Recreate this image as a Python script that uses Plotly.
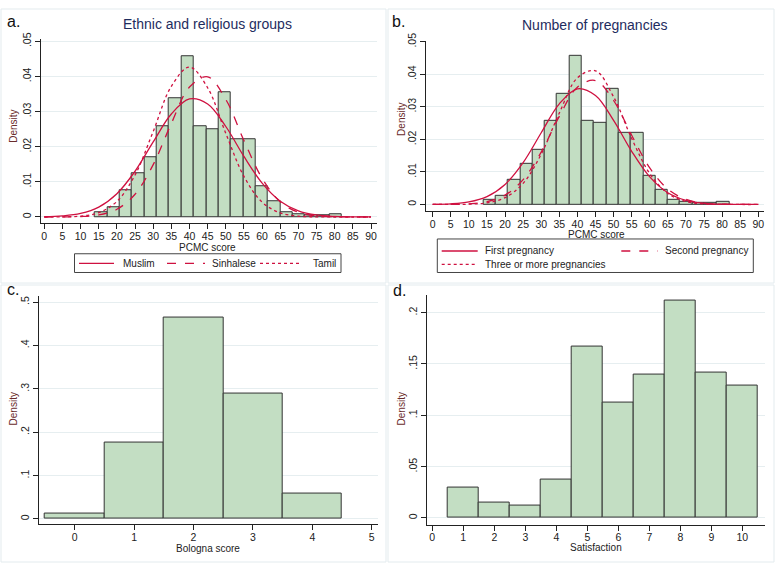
import numpy as np
import plotly.graph_objects as go

W, H = 775, 563

# ---------------- data ----------------
pcmc_bin_start = 14.0
pcmc_bin_width = 3.4
pcmc_density = [0.0013, 0.0028, 0.0075, 0.0125, 0.0169, 0.0258, 0.0339, 0.0457, 0.0258, 0.0251,
                0.0355, 0.0221, 0.0221, 0.0088, 0.0044, 0.0013, 0.0007, 0.0006, 0.0006, 0.0007]

curve_x = [0, 5, 10, 15, 20, 25, 30, 35, 40, 45, 50, 55, 60, 65, 70, 75, 80, 85, 90]
muslim = [0.00007, 0.00030, 0.00100, 0.00282, 0.00663, 0.01302, 0.02137, 0.02931, 0.03360, 0.03218,
          0.02576, 0.01723, 0.00963, 0.00450, 0.00176, 0.00057, 0.00016, 0.00004, 0.00001]
sinhalese = [0.00000, 0.00002, 0.00012, 0.00057, 0.00219, 0.00648, 0.01490, 0.02664, 0.03699, 0.03990,
             0.03344, 0.02176, 0.01101, 0.00432, 0.00132, 0.00031, 0.00006, 0.00001, 0.00000]
tamil = [0.00000, 0.00004, 0.00025, 0.00122, 0.00441, 0.01196, 0.02435, 0.03721, 0.04270, 0.03679,
         0.02380, 0.01156, 0.00422, 0.00116, 0.00024, 0.00004, 0.00000, 0.00000, 0.00000]
first_preg = [0.00004, 0.00020, 0.00078, 0.00241, 0.00615, 0.01287, 0.02204, 0.03093, 0.03556, 0.03349,
              0.02585, 0.01635, 0.00847, 0.00359, 0.00125, 0.00036, 0.00008, 0.00002, 0.00000]
second_preg = [0.00001, 0.00004, 0.00020, 0.00085, 0.00286, 0.00762, 0.01612, 0.02706, 0.03605, 0.03810,
               0.03196, 0.02128, 0.01124, 0.00471, 0.00157, 0.00041, 0.00009, 0.00001, 0.00000]
three_preg = [0.00000, 0.00001, 0.00009, 0.00051, 0.00208, 0.00650, 0.01547, 0.02811, 0.03892, 0.04110,
              0.03308, 0.02030, 0.00950, 0.00339, 0.00092, 0.00019, 0.00003, 0.00000, 0.00000]

bologna_score = [0, 1, 2, 3, 4]
bologna_density = [0.0114, 0.177, 0.464, 0.288, 0.059]

satisfaction = [1, 2, 3, 4, 5, 6, 7, 8, 9, 10]
satisfaction_density = [0.0294, 0.0147, 0.0125, 0.0374, 0.167, 0.112, 0.140, 0.212, 0.142, 0.129]

pcmc_xticks = list(range(0, 95, 5))
pcmc_yticks = [0, 0.01, 0.02, 0.03, 0.04, 0.05]
pcmc_ytext = ["0", ".01", ".02", ".03", ".04", ".05"]
bologna_yticks = [0, 0.1, 0.2, 0.3, 0.4, 0.5]
bologna_ytext = ["0", ".1", ".2", ".3", ".4", ".5"]
satis_yticks = [0, 0.05, 0.1, 0.15, 0.2]
satis_ytext = ["0", ".05", ".1", ".15", ".2"]

# ---------------- styling ----------------
FONT = "Liberation Sans, Arial, sans-serif"
BAR_FILL = "#c3dec3"
BAR_LINE = "#333333"
RED = "#cf1140"
GRID = "#e6eef0"
AXC = "#222222"
TITLE_C = "#1e2c5e"
YTITLE_C = "#6a2c2c"


def px(x):
    return x / W


def py(y):
    return 1 - y / H


def dom_x(l, r):
    return [px(l), px(r)]


def dom_y(t, b):
    return [py(b), py(t)]


fig = go.Figure()

pcmc_centers = pcmc_bin_start + pcmc_bin_width * (np.arange(len(pcmc_density)) + 0.5)

for k, (xa, ya) in enumerate([("x", "y"), ("x2", "y2")]):
    fig.add_trace(go.Bar(x=pcmc_centers, y=pcmc_density, width=pcmc_bin_width,
                         marker=dict(color=BAR_FILL, line=dict(color=BAR_LINE, width=1)),
                         xaxis=xa, yaxis=ya, showlegend=False))

for ys, dash in [(muslim, "solid"), (sinhalese, "dash"), (tamil, "dot")]:
    fig.add_trace(go.Scatter(x=curve_x, y=ys, mode="lines",
                             line=dict(color=RED, width=1.3, dash=dash, shape="spline"),
                             xaxis="x", yaxis="y", showlegend=False))
for ys, dash in [(first_preg, "solid"), (second_preg, "dash"), (three_preg, "dot")]:
    fig.add_trace(go.Scatter(x=curve_x, y=ys, mode="lines",
                             line=dict(color=RED, width=1.3, dash=dash, shape="spline"),
                             xaxis="x2", yaxis="y2", showlegend=False))

fig.add_trace(go.Bar(x=bologna_score, y=bologna_density, width=1,
                     marker=dict(color=BAR_FILL, line=dict(color=BAR_LINE, width=1)),
                     xaxis="x3", yaxis="y3", showlegend=False))
fig.add_trace(go.Bar(x=satisfaction, y=satisfaction_density, width=1,
                     marker=dict(color=BAR_FILL, line=dict(color=BAR_LINE, width=1)),
                     xaxis="x4", yaxis="y4", showlegend=False))

tickfont = dict(family=FONT, size=10.5, color="#222222")
xcommon = dict(showline=True, linecolor=AXC, linewidth=1.3, ticks="outside", ticklen=5,
               tickwidth=1, tickcolor=AXC, showgrid=False, zeroline=False, tickfont=tickfont,
               ticklabelstandoff=-2)
ycommon = dict(showline=True, linecolor=AXC, linewidth=1.3, ticks="outside", ticklen=5,
               tickwidth=1, tickcolor=AXC, showgrid=True, gridcolor=GRID, gridwidth=1,
               zeroline=False, tickfont=tickfont, tickangle=-90, ticklabelstandoff=-1)

fig.update_layout(
    width=W, height=H, autosize=False,
    margin=dict(l=0, r=0, t=0, b=0),
    paper_bgcolor="white", plot_bgcolor="white",
    bargap=0, barmode="overlay",
    font=dict(family=FONT),
    xaxis=dict(domain=dom_x(40.7, 376.7), range=[-0.99, 91.57], tickvals=pcmc_xticks,
               anchor="y", **xcommon),
    yaxis=dict(domain=dom_y(31.7, 218.3), range=[-0.00177, 0.0506], tickvals=pcmc_yticks,
               ticktext=pcmc_ytext, anchor="x", **ycommon),
    xaxis2=dict(domain=dom_x(425.7, 764), range=[-1.93, 91.58], tickvals=pcmc_xticks,
                anchor="y2", **xcommon),
    yaxis2=dict(domain=dom_y(33.3, 206), range=[-0.00203, 0.0503], tickvals=pcmc_yticks,
                ticktext=pcmc_ytext, anchor="x2", **ycommon),
    xaxis3=dict(domain=dom_x(38.7, 377.7), range=[-0.606, 5.10], tickvals=[0, 1, 2, 3, 4, 5],
                anchor="y3", **xcommon),
    yaxis3=dict(domain=dom_y(291.7, 523.5), range=[-0.0118, 0.515], tickvals=bologna_yticks,
                ticktext=bologna_ytext, anchor="x3", **ycommon),
    xaxis4=dict(domain=dom_x(426.7, 765), range=[-0.18, 10.73], tickvals=list(range(0, 11)),
                anchor="y4", **xcommon),
    yaxis4=dict(domain=dom_y(290.7, 524), range=[-0.0064, 0.2176], tickvals=satis_yticks,
                ticktext=satis_ytext, anchor="x4", **ycommon),
)

shapes = []
# faint panel frames
for (l, t, r, b) in [(1, 1, 386, 279), (388, 1, 774, 279), (1, 281, 386, 562), (388, 281, 774, 562)]:
    shapes.append(dict(type="rect", xref="paper", yref="paper", x0=px(l), x1=px(r), y0=py(b), y1=py(t),
                       line=dict(color="#e3ebee", width=1), layer="below"))

annotations = []


def text(x, y, s, size=10, color="#222222", xanchor="center", yanchor="middle", angle=0):
    annotations.append(dict(x=px(x), y=py(y), xref="paper", yref="paper", text=s, showarrow=False,
                            xanchor=xanchor, yanchor=yanchor, textangle=angle,
                            font=dict(family=FONT, size=size, color=color)))


# legend a
shapes.append(dict(type="rect", xref="paper", yref="paper", x0=px(74.5), x1=px(341), y0=py(268.3), y1=py(249.3),
                   line=dict(color="#444444", width=1), fillcolor="white"))
for (x0, x1, dash, lab, tx) in [(79, 114, "solid", "Muslim", 121), (167, 205, "dash", "Sinhalese", 210),
                                (260, 302, "dot", "Tamil", 311)]:
    shapes.append(dict(type="line", xref="paper", yref="paper", x0=px(x0), x1=px(x1), y0=py(259), y1=py(259),
                       line=dict(color=RED, width=1.3, dash=dash)))
    text(tx, 259, lab, size=10, xanchor="left")

# legend b
shapes.append(dict(type="rect", xref="paper", yref="paper", x0=px(437.3), x1=px(753.3), y0=py(268.3), y1=py(234.3),
                   line=dict(color="#444444", width=1), fillcolor="white"))
for (x0, x1, yy, dash, lab, tx) in [(441.7, 477.7, 246.5, "solid", "First pregnancy", 483),
                                    (621.3, 657.7, 246.5, "dash", "Second pregnancy", 663),
                                    (441.7, 477.7, 260, "dot", "Three or more pregnancies", 483)]:
    shapes.append(dict(type="line", xref="paper", yref="paper", x0=px(x0), x1=px(x1), y0=py(yy), y1=py(yy),
                       line=dict(color=RED, width=1.3, dash=dash)))
    text(tx, yy, lab, size=10, xanchor="left")

# titles
text(207.5, 16.7, "Ethnic and religious groups", size=14, color=TITLE_C)
text(595, 17, "Number of pregnancies", size=14, color=TITLE_C)

# panel letters
text(5, 14, "a.", size=16, color="#111111", xanchor="left")
text(390, 14, "b.", size=16, color="#111111", xanchor="left")
text(5, 286, "c.", size=16, color="#111111", xanchor="left")
text(391, 287, "d.", size=16, color="#111111", xanchor="left")

# axis titles
text(207.8, 242.5, "PCMC score", size=10)
text(596, 229.5, "PCMC score", size=10)
text(208, 548, "Bologna score", size=10)
text(595.8, 547.5, "Satisfaction", size=10)
text(13.5, 120, "Density", size=10, color=YTITLE_C, angle=-90)
text(401.5, 113, "Density", size=10, color=YTITLE_C, angle=-90)
text(13.5, 406.7, "Density", size=10, color=YTITLE_C, angle=-90)
text(401.5, 406.7, "Density", size=10, color=YTITLE_C, angle=-90)

fig.update_layout(shapes=shapes, annotations=annotations)

fig.write_html("out.html", config={"displayModeBar": False},
               post_script="document.body.style.margin='0px';document.body.style.overflow='hidden';")
